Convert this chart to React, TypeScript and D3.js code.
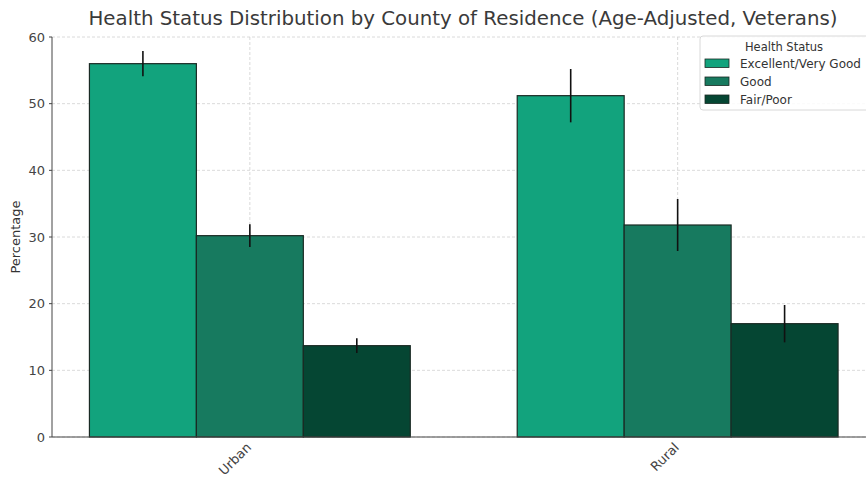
import React from "react";
import * as d3 from "d3";

const categories = ["Urban", "Rural"];
const seriesNames = ["Excellent/Very Good", "Good", "Fair/Poor"];
const excellent = [56.0, 51.2];
const good = [30.2, 31.8];
const fairPoor = [13.7, 17.0];
const excellentErr = [1.9, 4.0];
const goodErr = [1.7, 3.9];
const fairPoorErr = [1.1, 2.8];
const yTicks = [0, 10, 20, 30, 40, 50, 60];
const colors = ["#12a37d", "#177a5f", "#054633"];

const W = 866;
const H = 477;
const M = { left: 52, top: 37, bottom: 437 };

export default function App() {
  const values = [excellent, good, fairPoor];
  const errs = [excellentErr, goodErr, fairPoorErr];
  const x = d3.scaleLinear().domain([-0.4625, 1.4625]).range([M.left, 875.5]);
  const y = d3.scaleLinear().domain([0, 60]).range([M.bottom, M.top]);
  const bw = x(0.25) - x(0);
  const font = "DejaVu Sans, sans-serif";
  return (
    <svg width={W} height={H} style={{ position: "absolute", left: 0, top: 0, background: "#fff" }} fontFamily={font}>
      <rect width={W} height={H} fill="#fff" />
      {/* grid */}
      {yTicks.map((t) => (
        <line key={"gy" + t} x1={M.left} x2={W} y1={y(t)} y2={y(t)} stroke="#d0d0d0" strokeWidth={0.8} strokeDasharray="3,2" />
      ))}
      {categories.map((c, i) => (
        <line key={"gx" + c} x1={x(i)} x2={x(i)} y1={M.top} y2={M.bottom} stroke="#d0d0d0" strokeWidth={0.8} strokeDasharray="3,2" />
      ))}
      {/* bars */}
      {values.map((vals, s) =>
        vals.map((v, i) => {
          const cx = x(i) + (s - 1) * bw;
          return (
            <g key={s + "-" + i}>
              <rect x={cx - bw / 2} y={y(v)} width={bw} height={y(0) - y(v)} fill={colors[s]} stroke="#1a2a24" strokeWidth={1.2} />
              <line x1={cx} x2={cx} y1={y(v + errs[s][i])} y2={y(v - errs[s][i])} stroke="#111" strokeWidth={1.6} />
            </g>
          );
        })
      )}
      {/* axes */}
      <line x1={M.left} x2={M.left} y1={M.top} y2={M.bottom} stroke="#444" strokeWidth={1} />
      <line x1={M.left} x2={W} y1={M.bottom} y2={M.bottom} stroke="#444" strokeWidth={1} />
      {yTicks.map((t) => (
        <g key={"yt" + t}>
          <line x1={M.left - 3} x2={M.left} y1={y(t)} y2={y(t)} stroke="#444" />
          <text x={M.left - 7} y={y(t)} dy="0.35em" textAnchor="end" fontSize={13} fill="#444">{t}</text>
        </g>
      ))}
      {categories.map((c, i) => (
        <text key={"xt" + c} transform={`translate(${x(i) - 1},${M.bottom + 8}) rotate(-45)`} textAnchor="end" dy="0.35em" fontSize={13} fill="#444">{c}</text>
      ))}
      <text transform={`translate(20,${(M.top + M.bottom) / 2}) rotate(-90)`} textAnchor="middle" fontSize={13} fill="#333">Percentage</text>
      <text x={463} y={25} textAnchor="middle" fontSize={19.8} fill="#3a3a3a">Health Status Distribution by County of Residence (Age-Adjusted, Veterans)</text>
      {/* legend */}
      <g>
        <rect x={700} y={36} width={180} height={74} rx={3} fill="#fff" fillOpacity={0.85} stroke="#d8d8d8" />
        <text x={784} y={51} textAnchor="middle" fontSize={11.5} fill="#333">Health Status</text>
        {seriesNames.map((n, s) => (
          <g key={n}>
            <rect x={705} y={59 + s * 18} width={24} height={8.5} fill={colors[s]} stroke="#1a2a24" strokeWidth={0.8} />
            <text x={740} y={63.5 + s * 18} dy="0.35em" fontSize={12} fill="#333">{n}</text>
          </g>
        ))}
      </g>
    </svg>
  );
}
